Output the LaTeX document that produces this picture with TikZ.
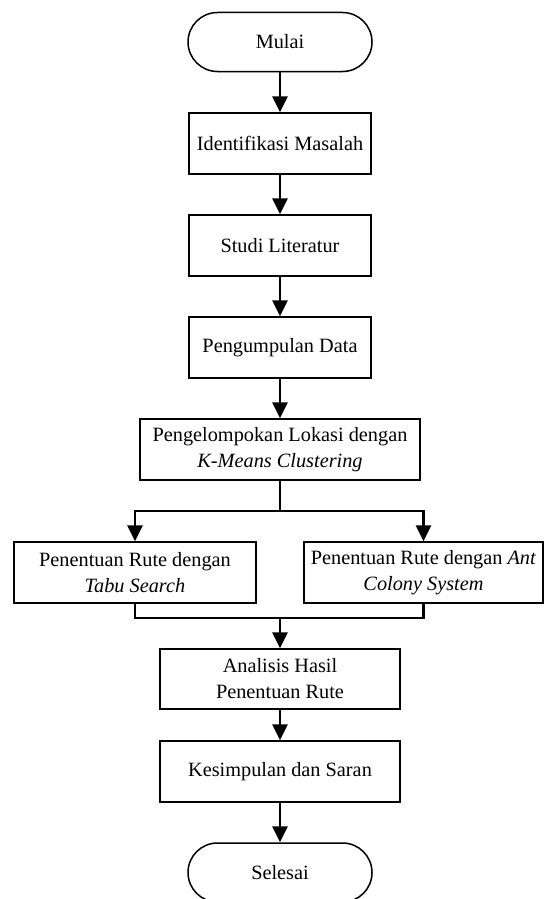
\documentclass[tikz,border=0pt]{standalone}
\usepackage{fontspec}
\setmainfont{Liberation Serif}
\usetikzlibrary{arrows.meta,shadows}
\tikzset{
  base/.style={draw=black, line width=1.5pt, fill=white, inner sep=0pt, align=center,
    font=\fontsize{20.3}{26}\selectfont,
    drop shadow={shadow xshift=1.2pt, shadow yshift=-1.2pt, opacity=0.12}},
  procbox/.style={base, rectangle},
  term/.style={base, rectangle, rounded corners=29.5pt, minimum width=184pt, minimum height=59pt},
  conn/.style={draw=black, line width=2.8pt, line join=miter},
  arr/.style={conn, -{Triangle[length=16pt,width=15pt]}}
}
\begin{document}
\begin{tikzpicture}[x=1pt,y=-1pt]
\useasboundingbox (0,0) rectangle (544,899);
\clip (0,0) rectangle (544,899);
\node[term] (mulai) at (280,42) {Mulai};
\node[procbox, minimum width=182pt, minimum height=61pt] (ident) at (280,143.5) {Identifikasi Masalah};
\node[procbox, minimum width=182pt, minimum height=61pt] (studi) at (280,245.5) {Studi Literatur};
\node[procbox, minimum width=182pt, minimum height=61pt] (data) at (280,347.5) {Pengumpulan Data};
\node[procbox, minimum width=280pt, minimum height=61pt] (kmeans) at (280,449.5) {Pengelompokan Lokasi dengan\\\textit{K-Means Clustering}};
\node[procbox, minimum width=242pt, minimum height=61pt] (tabu) at (135,572.5) {Penentuan Rute dengan\\\textit{Tabu Search}};
\node[procbox, minimum width=239pt, minimum height=61pt] (acs) at (423.5,572.5) {Penentuan Rute dengan \textit{Ant}\\\textit{Colony System}};
\node[procbox, minimum width=240pt, minimum height=60pt] (anal) at (280,679) {Analisis Hasil\\Penentuan Rute};
\node[procbox, minimum width=240pt, minimum height=61pt] (simp) at (280,771.5) {Kesimpulan dan Saran};
\node[term] (selesai) at (280,872.5) {Selesai};
\coordinate (split) at (280,511);
\coordinate (merge) at (280,618);
\draw[arr] (mulai) -- (ident);
\draw[arr] (ident) -- (studi);
\draw[arr] (studi) -- (data);
\draw[arr] (data) -- (kmeans);
\draw[arr] (kmeans.south) -- (split) -| (tabu.north);
\draw[arr] (split) -| (acs.north);
\draw[conn] (tabu.south) |- (merge);
\draw[conn] (acs.south) |- (merge);
\draw[arr] (merge) -- (anal.north);
\draw[arr] (anal) -- (simp);
\draw[arr] (simp) -- (selesai);
\end{tikzpicture}
\end{document}
